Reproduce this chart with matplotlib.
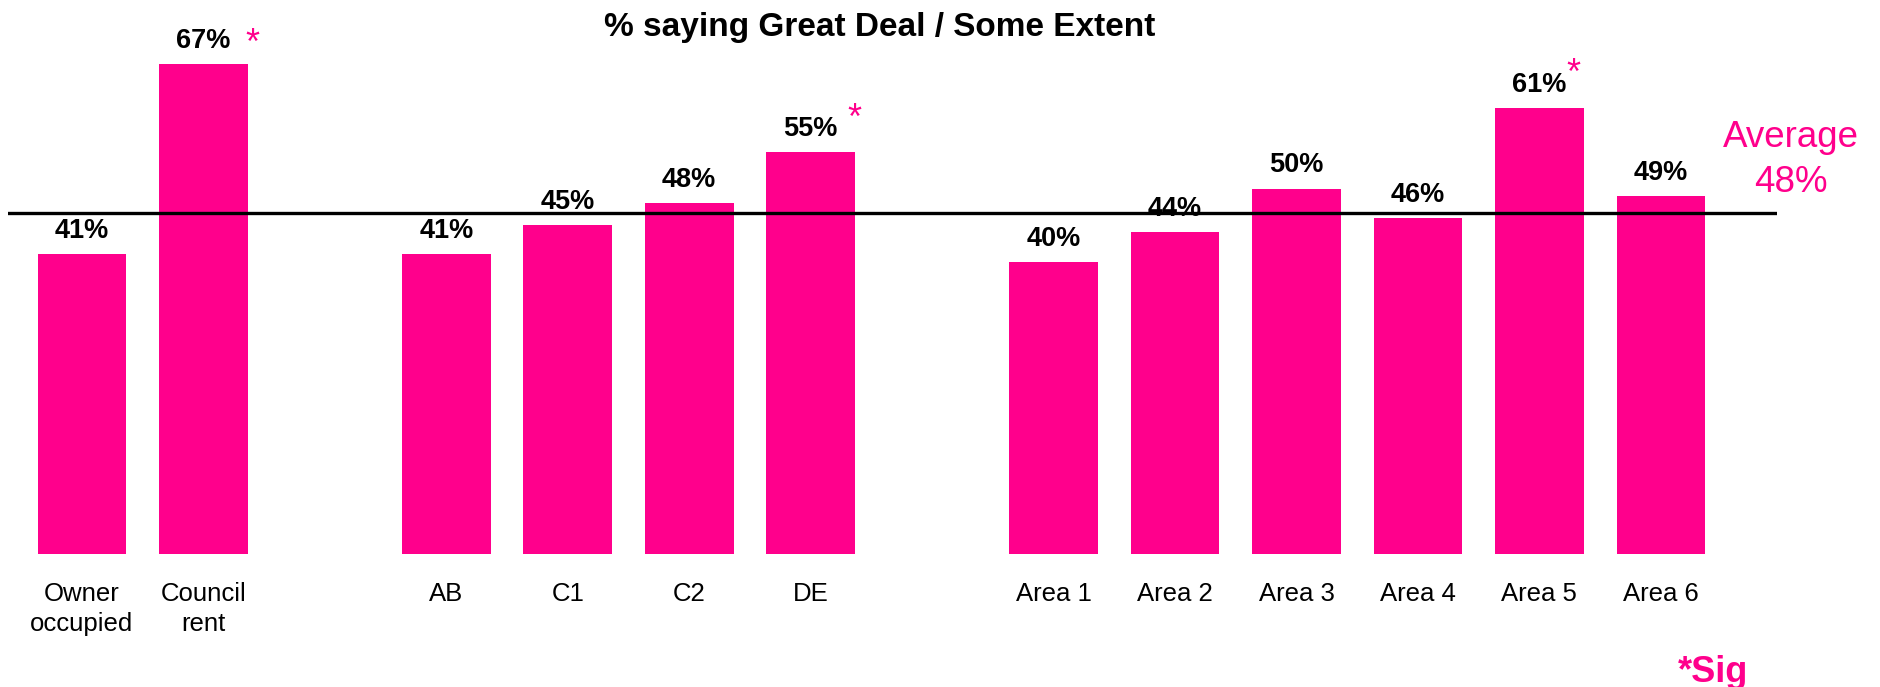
import matplotlib.pyplot as plt

plt.rcParams['font.family'] = ['Liberation Sans', 'DejaVu Sans']

# chart data
categories = ['Owner\noccupied', 'Council\nrent',
              'AB', 'C1', 'C2', 'DE',
              'Area 1', 'Area 2', 'Area 3', 'Area 4', 'Area 5', 'Area 6']
values = [41, 67, 41, 45, 48, 55, 40, 44, 50, 46, 61, 49]
significant = [False, True, False, False, False, True,
               False, False, False, False, True, False]
group_sizes = [2, 4, 6]
average_text = 'Average\n48%'
average_line = 46.7  # where the line is drawn in the original

PINK = '#FF008C'
W, H = 1881, 687

# bar slots, one empty slot between groups
positions = []
start = 0
for size in group_sizes:
    positions.extend(range(start, start + size))
    start += size + 1

fig = plt.figure(figsize=(W / 100, H / 100), dpi=100)
ax = fig.add_axes([8 / W, 133 / H, 1769 / W, 554 / H])

ax.bar(positions, values, width=0.73, color=PINK)
ax.axhline(average_line, color='black', lw=2.4)

ax.set_xlim(-0.609, 13.956)
ax.set_ylim(0, 554 / 7.31)
for s in ax.spines.values():
    s.set_visible(False)
ax.set_yticks([])
ax.set_xticks(positions, categories, fontsize=18.5, linespacing=1.35)
ax.tick_params(axis='x', length=0, pad=20)

# value labels
for p, v in zip(positions, values):
    ax.annotate(f'{v}%', (p, v), xytext=(0, 16), textcoords='offset pixels',
                ha='center', va='baseline', fontsize=19.5, fontweight='bold')

# significance stars (hand placed like the original)
star_shift = iter([(49, 10), (44, 23), (34, 24)])
for p, v, sig in zip(positions, values, significant):
    if sig:
        dx, dy = next(star_shift)
        ax.annotate('*', (p, v), xytext=(dx, dy), textcoords='offset pixels',
                    ha='center', va='baseline', fontsize=26, color=PINK,
                    annotation_clip=False)

fig.text(879.5 / W, 1 - 36 / H, '% saying Great Deal / Some Extent',
         ha='center', va='baseline', fontsize=24, fontweight='bold')

avg_top, avg_bottom = average_text.split('\n')
fig.text(1791 / W, 1 - 147 / H, avg_top, ha='center', va='baseline',
         fontsize=26.5, color=PINK)
fig.text(1791 / W, 1 - 192 / H, avg_bottom, ha='center', va='baseline',
         fontsize=26.5, color=PINK)

fig.text(1713 / W, 1 - 682 / H, '*Sig', ha='center', va='baseline',
         fontsize=26, fontweight='bold', color=PINK)

fig.savefig('out.png', dpi=100)
